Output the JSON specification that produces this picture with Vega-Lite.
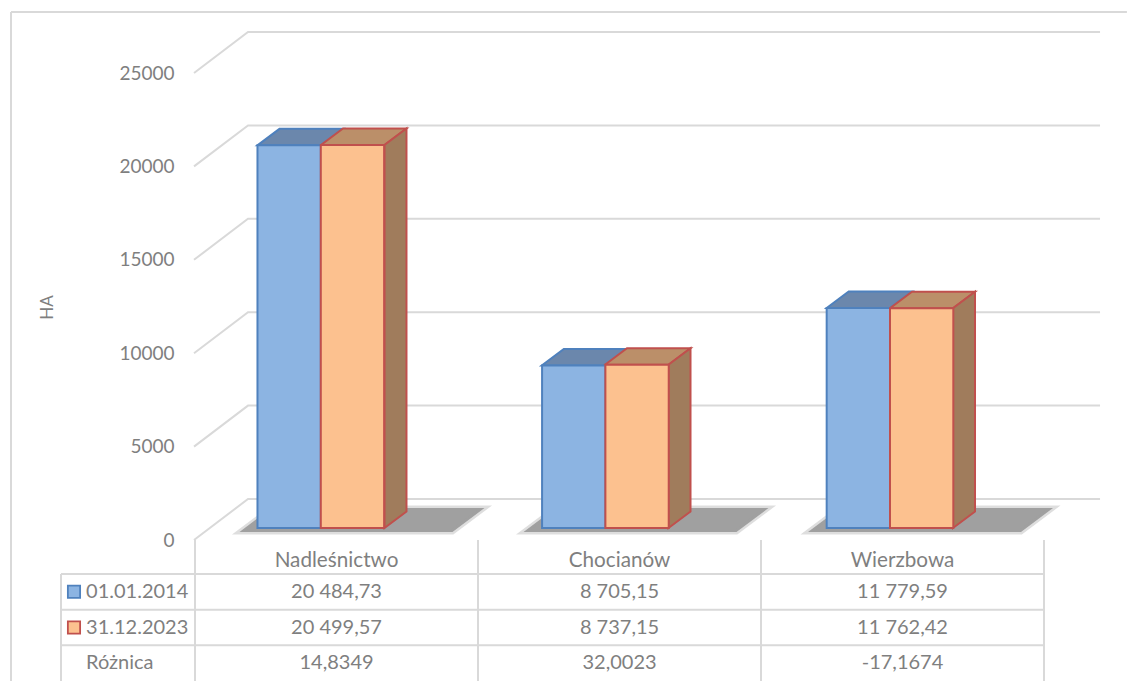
{
"$schema":"https://vega.github.io/schema/vega-lite/v6.json",
"width":1127,"height":681,"padding":0,"autosize":"none","background":"white",
"view":{"stroke":null},
"config":{"text":{"font":"Lato"},"axis":{"labelFont":"Lato","titleFont":"Lato"}},
"datasets":{
"bars":[
{"category":"Nadleśnictwo","series":"01.01.2014","value":20484.73},
{"category":"Nadleśnictwo","series":"31.12.2023","value":20499.57},
{"category":"Chocianów","series":"01.01.2014","value":8705.15},
{"category":"Chocianów","series":"31.12.2023","value":8737.15},
{"category":"Wierzbowa","series":"01.01.2014","value":11779.59},
{"category":"Wierzbowa","series":"31.12.2023","value":11762.42}],
"faces":[
{"id":"N1","part":"top2014","pos":0.2208,"lo":20484.73,"hi":20484.73},
{"id":"N1","part":"top2014","pos":0.2986,"lo":20484.73,"hi":21367.73},
{"id":"N1","part":"top2014","pos":0.4452,"lo":20484.73,"hi":21367.73},
{"id":"N1","part":"top2014","pos":0.5230,"lo":21367.73,"hi":21367.73},
{"id":"N2","part":"top2023","pos":0.4452,"lo":20499.57,"hi":20499.57},
{"id":"N2","part":"top2023","pos":0.5230,"lo":20499.57,"hi":21382.57},
{"id":"N2","part":"top2023","pos":0.6696,"lo":20499.57,"hi":21382.57},
{"id":"N2","part":"top2023","pos":0.7473,"lo":21382.57,"hi":21382.57},
{"id":"N3","part":"side2023","pos":0.6696,"lo":0,"hi":20499.57},
{"id":"N3","part":"side2023","pos":0.7473,"lo":883,"hi":21382.57},
{"id":"C1","part":"top2014","pos":1.2254,"lo":8705.15,"hi":8705.15},
{"id":"C1","part":"top2014","pos":1.3032,"lo":8705.15,"hi":9588.15},
{"id":"C1","part":"top2014","pos":1.4488,"lo":8705.15,"hi":9588.15},
{"id":"C1","part":"top2014","pos":1.5265,"lo":9588.15,"hi":9588.15},
{"id":"C2","part":"top2023","pos":1.4488,"lo":8737.15,"hi":8737.15},
{"id":"C2","part":"top2023","pos":1.5265,"lo":8737.15,"hi":9620.15},
{"id":"C2","part":"top2023","pos":1.6731,"lo":8737.15,"hi":9620.15},
{"id":"C2","part":"top2023","pos":1.7509,"lo":9620.15,"hi":9620.15},
{"id":"C3","part":"side2023","pos":1.6731,"lo":0,"hi":8737.15},
{"id":"C3","part":"side2023","pos":1.7509,"lo":883,"hi":9620.15},
{"id":"W1","part":"top2014","pos":2.2322,"lo":11779.59,"hi":11779.59},
{"id":"W1","part":"top2014","pos":2.3099,"lo":11779.59,"hi":12662.59},
{"id":"W1","part":"top2014","pos":2.4558,"lo":11779.59,"hi":12662.59},
{"id":"W1","part":"top2014","pos":2.5336,"lo":12662.59,"hi":12662.59},
{"id":"W2","part":"top2023","pos":2.4558,"lo":11762.42,"hi":11762.42},
{"id":"W2","part":"top2023","pos":2.5336,"lo":11762.42,"hi":12645.42},
{"id":"W2","part":"top2023","pos":2.6784,"lo":11762.42,"hi":12645.42},
{"id":"W2","part":"top2023","pos":2.7562,"lo":12645.42,"hi":12645.42},
{"id":"W3","part":"side2023","pos":2.6784,"lo":0,"hi":11762.42},
{"id":"W3","part":"side2023","pos":2.7562,"lo":883,"hi":12645.42}],
"shadows":[
{"id":"N","pos":0.1572,"lo":-214,"hi":-214},
{"id":"N","pos":0.2703,"lo":-214,"hi":1070},
{"id":"N","pos":0.9099,"lo":-214,"hi":1070},
{"id":"N","pos":1.0230,"lo":1070,"hi":1070},
{"id":"C","pos":1.1608,"lo":-214,"hi":-214},
{"id":"C","pos":1.2739,"lo":-214,"hi":1070},
{"id":"C","pos":1.9134,"lo":-214,"hi":1070},
{"id":"C","pos":2.0265,"lo":1070,"hi":1070},
{"id":"W","pos":2.1661,"lo":-214,"hi":-214},
{"id":"W","pos":2.2792,"lo":-214,"hi":1070},
{"id":"W","pos":2.9187,"lo":-214,"hi":1070},
{"id":"W","pos":3.0318,"lo":1070,"hi":1070}],
"grid":[
{"tick":0,"pos":-0.0035,"val":0},{"tick":0,"pos":0.1873,"val":2195},{"tick":0,"pos":3.198,"val":2195},
{"tick":5000,"pos":-0.0035,"val":5000},{"tick":5000,"pos":0.1873,"val":7195},{"tick":5000,"pos":3.198,"val":7195},
{"tick":10000,"pos":-0.0035,"val":10000},{"tick":10000,"pos":0.1873,"val":12195},{"tick":10000,"pos":3.198,"val":12195},
{"tick":15000,"pos":-0.0035,"val":15000},{"tick":15000,"pos":0.1873,"val":17195},{"tick":15000,"pos":3.198,"val":17195},
{"tick":20000,"pos":-0.0035,"val":20000},{"tick":20000,"pos":0.1873,"val":22195},{"tick":20000,"pos":3.198,"val":22195},
{"tick":25000,"pos":-0.0035,"val":25000},{"tick":25000,"pos":0.1873,"val":27195},{"tick":25000,"pos":3.198,"val":27195}],
"lines":[
{"x":-0.6502,"x2":3.293,"r":-15.76,"r2":-15.76},
{"x":-0.6502,"x2":-0.6502,"r":-15.76,"r2":3},
{"x":-0.4735,"x2":3,"r":0,"r2":0},
{"x":-0.4735,"x2":3,"r":1,"r2":1},
{"x":-0.4735,"x2":3,"r":2,"r2":2},
{"x":-0.4735,"x2":-0.4735,"r":0,"r2":3},
{"x":0,"x2":0,"r":-0.95,"r2":3},
{"x":1,"x2":1,"r":-0.95,"r2":3},
{"x":2,"x2":2,"r":-0.95,"r2":3},
{"x":3,"x2":3,"r":-0.95,"r2":3}],
"cells":[
{"col":"Nadleśnictwo","row":"01.01.2014","label":"20 484,73"},
{"col":"Chocianów","row":"01.01.2014","label":"8 705,15"},
{"col":"Wierzbowa","row":"01.01.2014","label":"11 779,59"},
{"col":"Nadleśnictwo","row":"31.12.2023","label":"20 499,57"},
{"col":"Chocianów","row":"31.12.2023","label":"8 737,15"},
{"col":"Wierzbowa","row":"31.12.2023","label":"11 762,42"},
{"col":"Nadleśnictwo","row":"Różnica","label":"14,8349"},
{"col":"Chocianów","row":"Różnica","label":"32,0023"},
{"col":"Wierzbowa","row":"Różnica","label":"-17,1674"}],
"heads":[{"col":"Nadleśnictwo"},{"col":"Chocianów"},{"col":"Wierzbowa"}],
"rows":[{"row":"01.01.2014"},{"row":"31.12.2023"},{"row":"Różnica"}],
"keys":[{"row":"01.01.2014"},{"row":"31.12.2023"}]
},
"layer":[
{"data":{"name":"lines"},"mark":{"type":"rule","color":"#d9d9d9","strokeWidth":2},
 "encoding":{
  "x":{"field":"x","type":"quantitative","axis":null,"scale":{"domain":[0,3],"range":[195,1044],"clamp":false,"nice":false,"zero":false}},
  "x2":{"field":"x2"},
  "y":{"field":"r","type":"quantitative","axis":null,"scale":{"domain":[0,3],"range":[574,681],"nice":false,"zero":false}},
  "y2":{"field":"r2"}}},
{"data":{"name":"grid"},"mark":{"type":"line","color":"#d9d9d9","strokeWidth":2},
 "encoding":{
  "x":{"field":"pos","type":"quantitative","axis":null,"scale":{"domain":[0,3],"range":[195,1044],"nice":false,"zero":false}},
  "y":{"field":"val","type":"quantitative","title":"HA","stack":null,
   "scale":{"domain":[0,25000],"range":[540,73],"nice":false,"zero":false},
   "axis":{"values":[0,5000,10000,15000,20000,25000],"format":"d","orient":"left","offset":-174,"domain":false,"ticks":false,"grid":false,"labelPadding":0,"labelFontSize":19,"labelColor":"#7f7f7f","titleColor":"#7f7f7f","titleFontSize":17,"titleFontWeight":"normal","titleX":-127,"titleY":307,"titleAngle":-90,"titleAlign":"center","titleBaseline":"middle","labelOverlap":false}},
  "detail":{"field":"tick"}}},
{"data":{"name":"shadows"},"mark":{"type":"area","orient":"vertical","color":"#a0a0a0","stroke":"#a0a0a0","strokeOpacity":0.35,"strokeWidth":5},
 "encoding":{
  "x":{"field":"pos","type":"quantitative","axis":null,"scale":{"domain":[0,3],"range":[195,1044],"nice":false,"zero":false}},
  "y":{"field":"lo","type":"quantitative","axis":null,"stack":null,"scale":{"domain":[0,25000],"range":[528,61],"nice":false,"zero":false}},
  "y2":{"field":"hi"},
  "detail":{"field":"id"}}},
{"data":{"name":"faces"},"mark":{"type":"area","orient":"vertical","strokeWidth":2},
 "encoding":{
  "x":{"field":"pos","type":"quantitative","axis":null,"scale":{"domain":[0,3],"range":[195,1044],"nice":false,"zero":false}},
  "y":{"field":"lo","type":"quantitative","axis":null,"stack":null,"scale":{"domain":[0,25000],"range":[528,61],"nice":false,"zero":false}},
  "y2":{"field":"hi"},
  "detail":{"field":"id"},
  "fill":{"field":"part","type":"nominal","legend":null,"scale":{"domain":["top2014","top2023","side2023"],"range":["#6b87ac","#bb8f69","#a07c5c"]}},
  "stroke":{"field":"part","type":"nominal","legend":null,"scale":{"domain":["top2014","top2023","side2023"],"range":["#4f81bd","#c0504d","#c0504d"]}}}},
{"data":{"name":"bars"},"mark":{"type":"bar","strokeWidth":2},
 "encoding":{
  "x":{"field":"category","type":"nominal","axis":null,"sort":null,"scale":{"type":"band","domain":["Nadleśnictwo","Chocianów","Wierzbowa"],"range":[178.5,1032.3],"paddingInner":0.555,"paddingOuter":0.2775}},
  "xOffset":{"field":"series","type":"nominal","scale":{"domain":["01.01.2014","31.12.2023"],"paddingInner":0,"paddingOuter":0}},
  "y":{"field":"value","type":"quantitative","axis":null,"stack":null,"scale":{"domain":[0,25000],"range":[528,61],"nice":false,"zero":false}},
  "fill":{"field":"series","type":"nominal","legend":null,"scale":{"domain":["01.01.2014","31.12.2023"],"range":["#8cb4e2","#fcc18f"]}},
  "stroke":{"field":"series","type":"nominal","legend":null,"scale":{"domain":["01.01.2014","31.12.2023"],"range":["#4f81bd","#c0504d"]}}}},
{"data":{"name":"heads"},"mark":{"type":"text","fontSize":20.7,"color":"#7f7f7f","baseline":"middle","align":"center"},
 "encoding":{
  "x":{"field":"col","type":"nominal","axis":null,"scale":{"type":"band","domain":["Nadleśnictwo","Chocianów","Wierzbowa"],"range":[195,1044]}},
  "y":{"datum":-0.36,"type":"quantitative","axis":null,"scale":{"domain":[0,3],"range":[574,681],"nice":false,"zero":false}},
  "text":{"field":"col"}}},
{"data":{"name":"cells"},"mark":{"type":"text","fontSize":20,"color":"#7f7f7f","baseline":"middle","align":"center"},
 "encoding":{
  "x":{"field":"col","type":"nominal","axis":null,"scale":{"type":"band","domain":["Nadleśnictwo","Chocianów","Wierzbowa"],"range":[195,1044]}},
  "y":{"field":"row","type":"nominal","axis":null,"scale":{"type":"band","domain":["01.01.2014","31.12.2023","Różnica"],"range":[574,681]}},
  "text":{"field":"label"}}},
{"data":{"name":"rows"},"mark":{"type":"text","fontSize":20,"color":"#7f7f7f","baseline":"middle","align":"left"},
 "encoding":{
  "x":{"datum":-0.385,"type":"quantitative","axis":null,"scale":{"domain":[0,3],"range":[195,1044],"nice":false,"zero":false}},
  "y":{"field":"row","type":"nominal","axis":null,"scale":{"type":"band","domain":["01.01.2014","31.12.2023","Różnica"],"range":[574,681]}},
  "text":{"field":"row"}}},
{"data":{"name":"keys"},"mark":{"type":"point","shape":"square","filled":true,"size":150,"strokeWidth":1.8,"opacity":1},
 "encoding":{
  "x":{"datum":-0.4276,"type":"quantitative","axis":null,"scale":{"domain":[0,3],"range":[195,1044],"nice":false,"zero":false}},
  "y":{"field":"row","type":"nominal","axis":null,"scale":{"type":"band","domain":["01.01.2014","31.12.2023","Różnica"],"range":[574,681]}},
  "fill":{"field":"row","type":"nominal","legend":null,"scale":{"domain":["01.01.2014","31.12.2023"],"range":["#8cb4e2","#fcc18f"]}},
  "stroke":{"field":"row","type":"nominal","legend":null,"scale":{"domain":["01.01.2014","31.12.2023"],"range":["#4f81bd","#c0504d"]}}}}
],
"resolve":{"scale":{"x":"independent","y":"independent","fill":"independent","stroke":"independent"},"axis":{"x":"independent","y":"independent"}}
}
